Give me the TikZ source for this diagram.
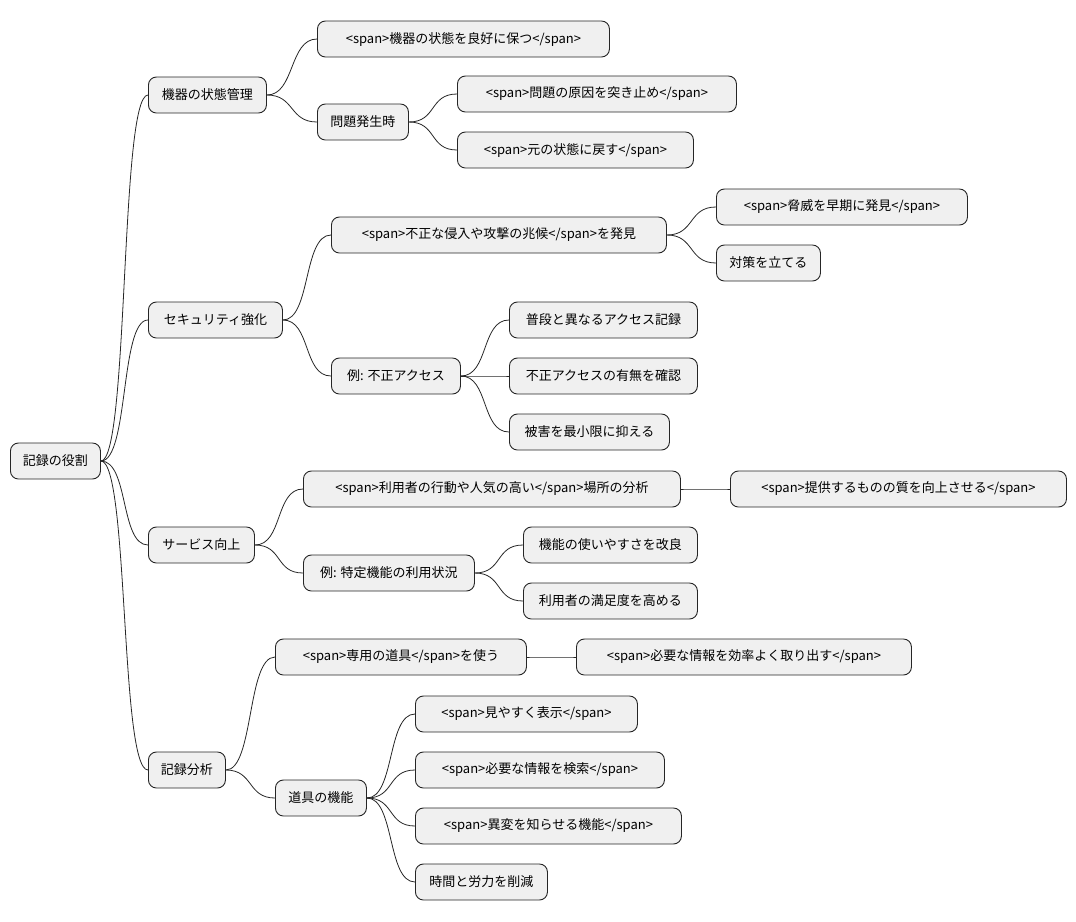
\documentclass[tikz,border=0pt]{standalone}
\usepackage{fontspec}
\setmainfont{Noto Sans CJK JP}
\usetikzlibrary{positioning}

\tikzset{
    mmbox/.style={draw=black!85, fill=black!6, rounded corners=8pt, anchor=west,
        minimum height=36pt, inner sep=0pt, line width=0.9pt,
        font=\fontsize{13}{15}\selectfont},
    mmedge/.style={line width=0.8pt, black!85},
}
\newcommand{\mmnode}[5]{\node[mmbox, minimum width=#3pt-#2pt] (#1) at (#2,#4) {#5};}

\begin{document}
\begin{tikzpicture}[x=1pt, y=-1pt]
\useasboundingbox (0,0) rectangle (1076,921);
\mmnode{root}{10}{100}{461}{記録の役割}
% branch 1
\mmnode{a}{148}{266}{95}{機器の状態管理}
\mmnode{a1}{317}{609}{39}{<span>機器の状態を良好に保つ</span>}
\mmnode{a2}{317}{408}{122}{問題発生時}
\mmnode{a21}{457}{736}{94}{<span>問題の原因を突き止め</span>}
\mmnode{a22}{457}{693}{150}{<span>元の状態に戻す</span>}
% branch 2
\mmnode{b}{148}{282}{320}{セキュリティ強化}
\mmnode{b1}{331}{666}{235}{<span>不正な侵入や攻撃の兆候</span>を発見}
\mmnode{b11}{716}{967}{207}{<span>脅威を早期に発見</span>}
\mmnode{b12}{716}{820}{263}{対策を立てる}
\mmnode{b2}{331}{460}{376}{例: 不正アクセス}
\mmnode{b21}{509}{697}{320}{普段と異なるアクセス記録}
\mmnode{b22}{509}{697}{376}{不正アクセスの有無を確認}
\mmnode{b23}{509}{669}{432}{被害を最小限に抑える}
% branch 3
\mmnode{c}{148}{254}{545}{サービス向上}
\mmnode{c1}{303}{680}{489}{<span>利用者の行動や人気の高い</span>場所の分析}
\mmnode{c11}{730}{1066}{489}{<span>提供するものの質を向上させる</span>}
\mmnode{c2}{303}{474}{573}{例: 特定機能の利用状況}
\mmnode{c21}{523}{697}{545}{機能の使いやすさを改良}
\mmnode{c22}{523}{697}{601}{利用者の満足度を高める}
% branch 4
\mmnode{d}{148}{225}{770}{記録分析}
\mmnode{d1}{275}{526}{657}{<span>専用の道具</span>を使う}
\mmnode{d11}{576}{911}{657}{<span>必要な情報を効率よく取り出す</span>}
\mmnode{d2}{275}{366}{798}{道具の機能}
\mmnode{d21}{415}{637}{714}{<span>見やすく表示</span>}
\mmnode{d22}{415}{664}{770}{<span>必要な情報を検索</span>}
\mmnode{d23}{415}{681}{826}{<span>異変を知らせる機能</span>}
\mmnode{d24}{415}{547}{882}{時間と労力を削減}

\foreach \p/\c in {root/a,root/b,root/c,root/d,a/a1,a/a2,a2/a21,a2/a22,
    b/b1,b/b2,b1/b11,b1/b12,b2/b21,b2/b22,b2/b23,
    c/c1,c/c2,c1/c11,c2/c21,c2/c22,
    d/d1,d/d2,d1/d11,d2/d21,d2/d22,d2/d23,d2/d24} {
    \draw[mmedge] (\p.east) .. controls +(28,0) and +(-28,0) .. (\c.west);
}
\end{tikzpicture}
\end{document}
